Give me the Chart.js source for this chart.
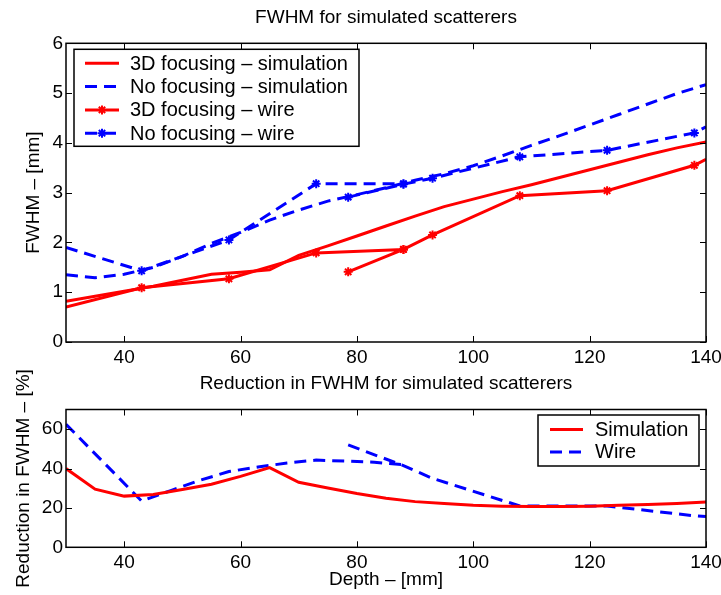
<!DOCTYPE html>
<html lang="en">

<head>
    <meta charset="UTF-8">
    <title>FWHM</title>
    <script src="https://cdn.jsdelivr.net/npm/chart.js@4.4.0/dist/chart.umd.min.js"></script>
    <style>
        body {
            margin: 0;
            background: #fff;
        }

        canvas {
            position: absolute;
            left: 0;
        }
    </style>
</head>

<body>
    <canvas id="topChart" width="721" height="372" style="top:0"></canvas>
    <canvas id="bottomChart" width="721" height="250" style="top:345px"></canvas>

    <script>
        // depth axis
        const depthSim = [30, 35, 40, 45, 50, 55, 60, 65, 70, 75, 80, 85, 90, 95, 100, 105, 110, 115, 120, 125, 130, 135, 140];
        const focusSim = [0.82, 0.92, 1.02, 1.12, 1.24, 1.36, 1.40, 1.45, 1.74, 1.93, 2.13, 2.33, 2.53, 2.72, 2.87, 3.02, 3.16, 3.31, 3.46, 3.61, 3.76, 3.90, 4.02];
        const noFocusSim = [1.35, 1.29, 1.36, 1.50, 1.72, 1.98, 2.20, 2.45, 2.65, 2.83, 2.96, 3.10, 3.25, 3.38, 3.54, 3.74, 3.95, 4.15, 4.36, 4.57, 4.78, 4.99, 5.17];

        // wire measurements, two runs
        const wireDepth1 = [30, 43, 58, 73, 88];
        const focusWire1 = [0.70, 1.09, 1.27, 1.79, 1.86];
        const noFocusWire1 = [1.90, 1.43, 2.05, 3.18, 3.18];
        const wireDepth2 = [78.5, 88, 93, 108, 123, 138, 140];
        const focusWire2 = [1.41, 1.86, 2.15, 2.94, 3.04, 3.55, 3.67];
        const noFocusWire2 = [2.91, 3.17, 3.29, 3.72, 3.85, 4.20, 4.32];

        // reduction in %
        const simReduction = [40, 29.5, 26, 26.8, 29.4, 32, 36, 40.5, 33, 30.1, 27.3, 24.9, 23.2, 22.2, 21.3, 20.9, 20.7, 20.7, 20.9, 21.3, 21.8, 22.3, 23];
        const redDepth1 = [30, 43, 48, 53, 58, 63, 68, 73, 78, 83, 88];
        const wireReduction1 = [62.5, 23.5, 28.8, 34, 38.5, 40.8, 42.8, 44.3, 43.8, 43.2, 42];
        const redDepth2 = [78.5, 88, 93, 108, 123, 138, 140];
        const wireReduction2 = [52, 41.5, 35, 21, 21, 16, 15.6];

        const depthTicks = [40, 60, 80, 100, 120, 140];
        const fwhmTicks = [0, 1, 2, 3, 4, 5, 6];
        const reductionTicks = [0, 20, 40, 60];

        const RED = '#ff0000';
        const BLUE = '#0000ff';
        const FONT = '"Liberation Sans", Arial, sans-serif';
        const DASH = [12, 7];

        function pts(xs, ys) {
            return xs.map((x, i) => ({ x: x, y: ys[i] }));
        }
        function twoRuns(x1, y1, x2, y2) {
            return pts(x1, y1).concat([{ x: x2[0], y: null }], pts(x2, y2));
        }
        function markerRadius(c) {
            const r = c.raw;
            return r && r.x > 30 && r.x < 140 ? 4.5 : 0;
        }

        // box around the plot with inward tick marks
        const boxAxes = {
            id: 'boxAxes',
            afterDatasetsDraw(chart) {
                const { ctx, chartArea: a, scales } = chart;
                const t = 6;
                ctx.save();
                ctx.strokeStyle = '#000';
                ctx.lineWidth = 1;
                ctx.beginPath();
                scales.x.ticks.forEach(tk => {
                    const p = Math.round(scales.x.getPixelForValue(tk.value)) + 0.5;
                    ctx.moveTo(p, a.bottom); ctx.lineTo(p, a.bottom - t);
                    ctx.moveTo(p, a.top); ctx.lineTo(p, a.top + t);
                });
                scales.y.ticks.forEach(tk => {
                    const p = Math.round(scales.y.getPixelForValue(tk.value)) + 0.5;
                    ctx.moveTo(a.left, p); ctx.lineTo(a.left + t, p);
                    ctx.moveTo(a.right, p); ctx.lineTo(a.right - t, p);
                });
                ctx.stroke();
                ctx.lineWidth = 1.5;
                ctx.strokeRect(a.left, a.top, a.right - a.left, a.bottom - a.top);
                ctx.restore();
            }
        };

        // matlab style legend drawn inside the axes
        const boxLegend = {
            id: 'boxLegend',
            afterDraw(chart, args, o) {
                const { ctx, chartArea: a } = chart;
                const left = o.fromRight ? a.right - o.fromRight : a.left + o.dx;
                const top = a.top + o.dy;
                ctx.save();
                ctx.fillStyle = '#fff';
                ctx.fillRect(left, top, o.width, o.height);
                ctx.strokeStyle = '#000';
                ctx.lineWidth = 1.5;
                ctx.strokeRect(left, top, o.width, o.height);
                ctx.font = '20px ' + FONT;
                ctx.textBaseline = 'middle';
                chart.data.datasets.forEach((ds, i) => {
                    const y = top + o.first + i * o.step;
                    ctx.strokeStyle = ds.borderColor;
                    ctx.lineWidth = ds.borderWidth;
                    ctx.setLineDash(ds.borderDash || []);
                    ctx.beginPath();
                    ctx.moveTo(left + o.lineFrom, y);
                    ctx.lineTo(left + o.lineTo, y);
                    ctx.stroke();
                    ctx.setLineDash([]);
                    if (ds.pointStyle === 'star') {
                        ctx.lineWidth = 2;
                        Chart.helpers.drawPoint(ctx, { pointStyle: 'star', radius: 4.5, borderWidth: 2, rotation: 0 },
                            left + (o.lineFrom + o.lineTo) / 2, y);
                    }
                    ctx.fillStyle = '#000';
                    ctx.fillText(ds.label, left + o.textX, y + 1);
                });
                ctx.restore();
            }
        };

        function xScale(title, height, tickPad, titlePad) {
            return {
                type: 'linear', min: 30, max: 140,
                grid: { display: false, drawTicks: false }, border: { display: false },
                afterBuildTicks: s => { s.ticks = depthTicks.map(v => ({ value: v })); },
                afterFit: s => { s.height = height; s.paddingLeft = 0; s.paddingRight = 0; },
                ticks: { color: '#000', font: { family: FONT, size: 19 }, padding: tickPad, maxRotation: 0 },
                title: { display: !!title, text: title, color: '#000', font: { family: FONT, size: 19 }, padding: { top: 0, bottom: titlePad } }
            };
        }
        function yScale(min, max, tickList, title, titlePad) {
            return {
                min: min, max: max,
                grid: { display: false, drawTicks: false }, border: { display: false },
                afterBuildTicks: s => { s.ticks = tickList.map(v => ({ value: v })); },
                afterFit: s => { s.width = 66; },
                ticks: { color: '#000', font: { family: FONT, size: 19 }, padding: 3 },
                title: { display: true, text: title, color: '#000', font: { family: FONT, size: 19 }, padding: { top: titlePad, bottom: 0 } }
            };
        }

        new Chart(document.getElementById('topChart'), {
            type: 'line',
            data: {
                datasets: [
                    { label: '3D focusing – simulation', data: pts(depthSim, focusSim), borderColor: RED, borderWidth: 3, pointRadius: 0 },
                    { label: 'No focusing – simulation', data: pts(depthSim, noFocusSim), borderColor: BLUE, borderWidth: 3, borderDash: DASH, pointRadius: 0 },
                    {
                        label: '3D focusing – wire', data: twoRuns(wireDepth1, focusWire1, wireDepth2, focusWire2),
                        borderColor: RED, backgroundColor: RED, borderWidth: 3, pointStyle: 'star', pointRadius: markerRadius, pointBorderWidth: 2
                    },
                    {
                        label: 'No focusing – wire', data: twoRuns(wireDepth1, noFocusWire1, wireDepth2, noFocusWire2),
                        borderColor: BLUE, backgroundColor: BLUE, borderWidth: 3, borderDash: DASH, pointStyle: 'star', pointRadius: markerRadius, pointBorderWidth: 2
                    }
                ]
            },
            options: {
                responsive: false,
                animation: false,
                layout: { padding: { left: 0, right: 15, top: 0, bottom: 0 } },
                scales: {
                    x: xScale('', 30, 4, 0),
                    y: yScale(0, 6, fwhmTicks, 'FWHM – [mm]', 22.6)
                },
                plugins: {
                    legend: { display: false },
                    tooltip: { enabled: false },
                    title: { display: true, fullSize: false, text: 'FWHM for simulated scatterers', color: '#000', font: { family: FONT, size: 19, weight: 'normal' }, padding: { top: 6.6, bottom: 13.9 } },
                    boxLegend: { dx: 8, dy: 6, width: 285, height: 97, first: 14, step: 23.3, lineFrom: 11, lineTo: 45, textX: 56 }
                }
            },
            plugins: [boxAxes, boxLegend]
        });

        new Chart(document.getElementById('bottomChart'), {
            type: 'line',
            data: {
                datasets: [
                    { label: 'Simulation', data: pts(depthSim, simReduction), borderColor: RED, borderWidth: 3, pointRadius: 0 },
                    { label: 'Wire', data: twoRuns(redDepth1, wireReduction1, redDepth2, wireReduction2), borderColor: BLUE, borderWidth: 3, borderDash: DASH, pointRadius: 0 }
                ]
            },
            options: {
                responsive: false,
                animation: false,
                layout: { padding: { left: 0, right: 15, top: 0, bottom: 0 } },
                scales: {
                    x: xScale('Depth – [mm]', 47.7, 4, 3.6),
                    y: yScale(0, 70, reductionTicks, 'Reduction in FWHM – [%]', 12.6)
                },
                plugins: {
                    legend: { display: false },
                    tooltip: { enabled: false },
                    title: { display: true, fullSize: false, text: 'Reduction in FWHM for simulated scatterers', color: '#000', font: { family: FONT, size: 19, weight: 'normal' }, padding: { top: 27.6, bottom: 14.1 } },
                    boxLegend: { fromRight: 168, dy: 5.5, width: 161, height: 51, first: 14.5, step: 22.4, lineFrom: 12, lineTo: 45, textX: 57 }
                }
            },
            plugins: [boxAxes, boxLegend]
        });
    </script>

</body>

</html>
